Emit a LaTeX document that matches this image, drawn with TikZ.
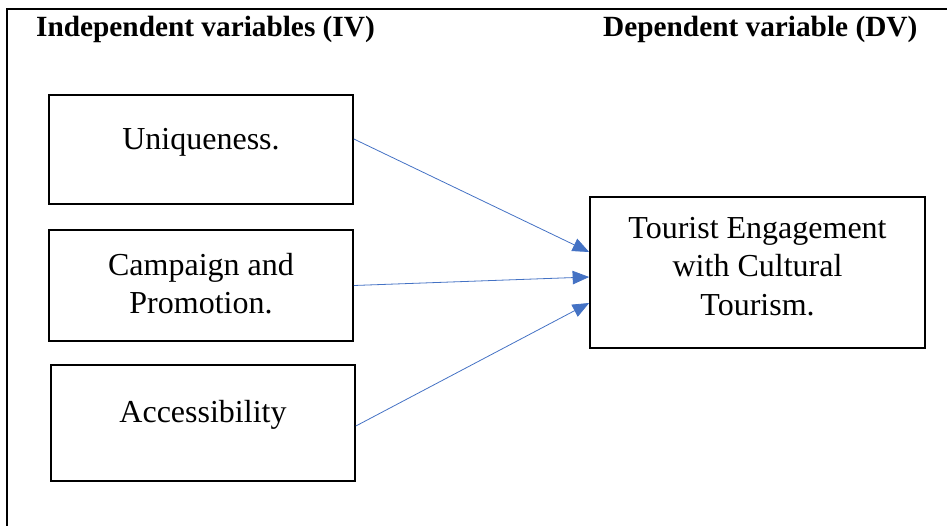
\documentclass[tikz,border=0pt]{standalone}
\usepackage{fontspec}
\setmainfont{Liberation Serif}
\usetikzlibrary{arrows.meta}
\definecolor{arrowblue}{HTML}{4472C4}
\tikzset{
  varbox/.style={draw, line width=1.7pt, inner sep=0pt},
  boxtext/.style={align=center, font=\fontsize{32}{38.5}\selectfont},
  headtext/.style={anchor=base west, inner sep=0pt, font=\fontsize{29.3}{35}\selectfont\bfseries},
  link/.style={draw=arrowblue, line width=0.8pt, -{Triangle[length=16.5pt,width=13.5pt]}, arrowblue}
}
\begin{document}
\begin{tikzpicture}[x=1pt,y=-1pt]
	\useasboundingbox (0,0) rectangle (947,526);
	\draw[line width=1.7pt] (7,526) -- (7,9) -- (947,9);
	\node[headtext] (ivhead) at (36,37) {Independent variables (IV)};
	\node[headtext] (dvhead) at (603,37) {Dependent variable (DV)};
	\node[varbox, minimum width=304, minimum height=109,
		label={[boxtext, yshift=7pt]center:Uniqueness.}] (uniq) at (201,149.5) {};
	\node[varbox, minimum width=304, minimum height=111,
		label={[boxtext, yshift=2pt]center:Campaign and\\Promotion.}] (camp) at (201,285.5) {};
	\node[varbox, minimum width=304, minimum height=116,
		label={[boxtext, yshift=8.5pt]center:Accessibility}] (acc) at (203,423) {};
	\node[varbox, minimum width=335, minimum height=151,
		label={[boxtext, yshift=6pt]center:Tourist Engagement\\with Cultural\\Tourism.}] (engage) at (757.5,272.5) {};
	\draw[link] ([yshift=10.5pt]uniq.east) -- ([yshift=20.5pt]engage.west);
	\draw[link] (camp.east) -- ([yshift=-4.5pt]engage.west);
	\draw[link] ([yshift=-3pt]acc.east) -- ([yshift=-30.5pt]engage.west);
\end{tikzpicture}
\end{document}
